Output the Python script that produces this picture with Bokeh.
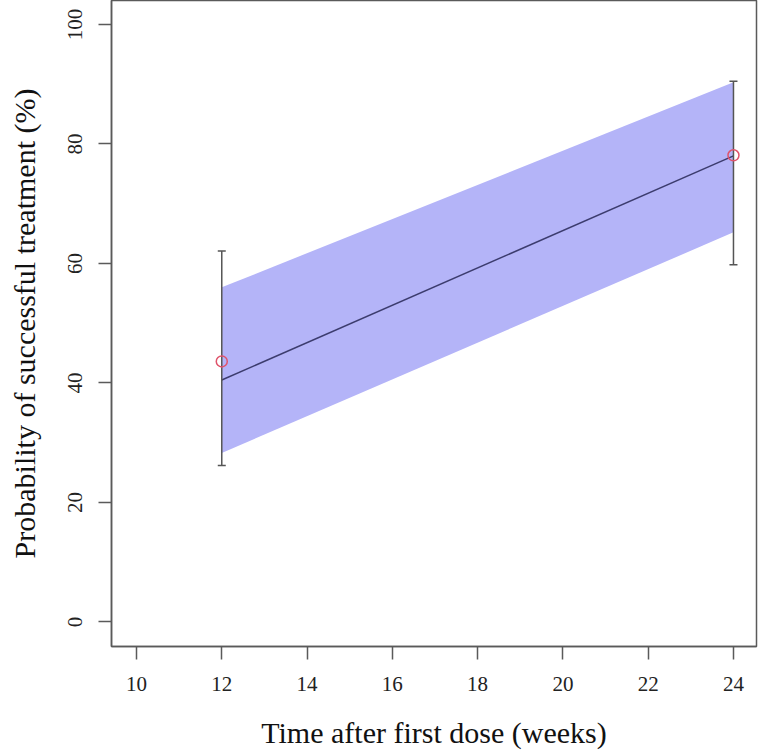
from bokeh.plotting import figure
from bokeh.models import FixedTicker, Range1d
from bokeh.embed import file_html
from bokeh.resources import INLINE

# data
weeks = [12, 24]
observed = [43.6, 78.1]
obs_lower = [26.2, 59.8]
obs_upper = [62.1, 90.5]
fit = [40.5, 78.0]
fit_lower = [28.3, 65.2]
fit_upper = [56.0, 90.3]
x_ticks = [10, 12, 14, 16, 18, 20, 22, 24]
y_ticks = [0, 20, 40, 60, 80, 100]

FONT = "Liberation Serif"
AX = "#5a5a5a"

p = figure(width=758, height=752, output_backend="svg", toolbar_location=None,
           x_range=Range1d(9.414, 24.54), y_range=Range1d(-4.1, 104.0),
           min_border_left=111, min_border_right=2, min_border_top=0, min_border_bottom=106)
p.grid.visible = False
p.outline_line_color = AX
p.outline_line_width = 1.5
p.background_fill_color = "white"
p.border_fill_color = "white"

p.varea(x=weeks, y1=fit_lower, y2=fit_upper, fill_color="#B4B4F8", fill_alpha=1.0)
p.line(x=weeks, y=fit, line_color="#3c3c6e", line_width=1.5)
p.segment(x0=weeks, y0=obs_lower, x1=weeks, y1=obs_upper, line_color="#555555", line_width=1.5)
p.scatter(x=weeks + weeks, y=obs_lower + obs_upper, marker="dash", size=8,
          line_color="#555555", line_width=1.5)
p.scatter(x=weeks, y=observed, marker="circle", size=11, fill_color=None,
          line_color="#DF536B", line_width=1.5)

for ax in (p.xaxis[0], p.yaxis[0]):
    ax.axis_line_color = AX
    ax.axis_line_width = 1.5
    ax.major_tick_line_color = AX
    ax.major_tick_line_width = 1.5
    ax.major_tick_out = 13
    ax.major_tick_in = 0
    ax.minor_tick_line_color = None
    ax.major_label_text_font = FONT
    ax.major_label_text_font_size = "21px"
    ax.major_label_text_color = "#222222"
    ax.axis_label_text_font = FONT
    ax.axis_label_text_font_size = "30px"
    ax.axis_label_text_font_style = "normal"
    ax.axis_label_text_color = "#111111"
    ax.major_label_standoff = 17

p.xaxis[0].ticker = FixedTicker(ticks=x_ticks)
p.yaxis[0].ticker = FixedTicker(ticks=y_ticks)
p.yaxis[0].major_label_orientation = "vertical"
p.yaxis[0].major_label_standoff = 16
p.xaxis[0].axis_label = "Time after first dose (weeks)"
p.yaxis[0].axis_label = "Probability of successful treatment (%)"
p.xaxis[0].axis_label_standoff = 22
p.yaxis[0].axis_label_standoff = 25

open("out.html", "w").write(file_html(p, INLINE))
